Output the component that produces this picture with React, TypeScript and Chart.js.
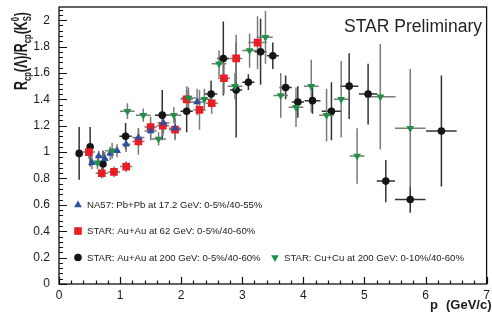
import React, { useEffect, useRef } from "react";
import { Chart, registerables } from "chart.js";

Chart.register(...registerables);

const FONT = "'Liberation Sans', Arial, Helvetica, sans-serif";

// ---- axis ticks ----
const xTickLabels = ["0", "1", "2", "3", "4", "5", "6", "7"];
const yTickLabels = ["0", "0.2", "0.4", "0.6", "0.8", "1", "1.2", "1.4", "1.6", "1.8", "2"];

// ---- NA57: Pb+Pb at 17.2 GeV ----
const na57X = [0.54, 0.65, 0.75, 0.84, 0.95, 1.1, 1.3, 1.5, 1.71, 1.9, 2.26];
const na57Y = [0.92, 0.97, 0.95, 0.99, 1.01, 1.06, 1.11, 1.16, 1.22, 1.18, 1.38];
const na57XErr = [0.05, 0.05, 0.05, 0.05, 0.05, 0.07, 0.1, 0.1, 0.1, 0.1, 0.12];
const na57YErr = [0.05, 0.04, 0.05, 0.05, 0.05, 0.06, 0.07, 0.07, 0.08, 0.08, 0.1];

// ---- STAR: Au+Au at 62 GeV ----
const au62X = [0.49, 0.7, 0.9, 1.1, 1.3, 1.5, 1.7, 1.9, 2.09, 2.3, 2.5, 2.7, 2.9, 3.25];
const au62Y = [1.0, 0.84, 0.85, 0.89, 1.08, 1.19, 1.2, 1.17, 1.4, 1.32, 1.37, 1.56, 1.71, 1.83];
const au62XErr = [0.1, 0.1, 0.1, 0.1, 0.1, 0.1, 0.1, 0.1, 0.1, 0.1, 0.1, 0.1, 0.1, 0.15];
const au62YErr = [0.05, 0.04, 0.04, 0.04, 0.1, 0.08, 0.08, 0.08, 0.1, 0.15, 0.08, 0.12, 0.18, 0.2];

// ---- STAR: Au+Au at 200 GeV ----
const au200X = [0.33, 0.51, 0.72, 1.09, 1.69, 2.09, 2.49, 2.69, 2.9, 3.1, 3.3, 3.5, 3.71, 3.91, 4.15, 4.46, 4.75, 5.06, 5.35, 5.75, 6.26];
const au200Y = [0.99, 1.04, 0.91, 1.12, 1.28, 1.31, 1.44, 1.71, 1.47, 1.53, 1.76, 1.73, 1.49, 1.38, 1.39, 1.31, 1.5, 1.44, 0.78, 0.64, 1.16];
const au200XErr = [0.05, 0.05, 0.05, 0.1, 0.12, 0.1, 0.1, 0.1, 0.1, 0.1, 0.1, 0.1, 0.1, 0.1, 0.13, 0.16, 0.15, 0.15, 0.15, 0.25, 0.25];
const au200YErr = [0.2, 0.15, 0.1, 0.1, 0.19, 0.16, 0.1, 0.28, 0.36, 0.06, 0.25, 0.1, 0.09, 0.12, 0.1, 0.22, 0.25, 0.23, 0.16, 0.1, 0.42];

// ---- STAR: Cu+Cu at 200 GeV ----
const cuX = [0.63, 0.87, 1.12, 1.38, 1.63, 1.88, 2.12, 2.38, 2.62, 2.88, 3.12, 3.38, 3.63, 3.88, 4.13, 4.38, 4.62, 4.88, 5.26, 5.75];
const cuY = [0.92, 1.01, 1.31, 1.28, 1.1, 1.28, 1.41, 1.4, 1.67, 1.5, 1.77, 1.87, 1.43, 1.34, 1.5, 1.28, 1.4, 0.97, 1.42, 1.18];
const cuXErr = [0.12, 0.12, 0.12, 0.12, 0.12, 0.12, 0.12, 0.12, 0.12, 0.12, 0.12, 0.12, 0.12, 0.12, 0.12, 0.12, 0.12, 0.12, 0.25, 0.25];
const cuYErr = [0.05, 0.06, 0.06, 0.05, 0.05, 0.06, 0.08, 0.08, 0.1, 0.1, 0.13, 0.2, 0.17, 0.15, 0.2, 0.2, 0.29, 0.21, 0.4, 0.45];

const legendLabels = [
  "NA57: Pb+Pb at 17.2 GeV: 0-5%/40-55%",
  "STAR: Au+Au at 62 GeV: 0-5%/40-60%",
  "STAR: Au+Au at 200 GeV: 0-5%/40-60%",
  "STAR: Cu+Cu at 200 GeV: 0-10%/40-60%",
];

const BLACK = "#151515";
const RED = "#ec1c24";
const BLUE = "#2e4f9f";
const GREEN = "#1e9145";

const series = [
  { x: au200X, y: au200Y, xe: au200XErr, ye: au200YErr, err: "#333333" },
  { x: au62X, y: au62Y, xe: au62XErr, ye: au62YErr, err: "#7a7a7a" },
  { x: na57X, y: na57Y, xe: na57XErr, ye: na57YErr, err: "#7a7a7a" },
  { x: cuX, y: cuY, xe: cuXErr, ye: cuYErr, err: "#7a7a7a" },
];

const pts = (xs: number[], ys: number[]) => xs.map((v, i) => ({ x: v, y: ys[i] }));

function drawMarker(ctx: CanvasRenderingContext2D, kind: string, x: number, y: number, color: string) {
  ctx.fillStyle = color;
  ctx.beginPath();
  if (kind === "circle") ctx.arc(x, y, 3.8, 0, Math.PI * 2);
  else if (kind === "rect") ctx.rect(x - 3.8, y - 3.8, 7.6, 7.6);
  else if (kind === "up") {
    ctx.moveTo(x, y - 4.5); ctx.lineTo(x + 3.9, y + 2.3); ctx.lineTo(x - 3.9, y + 2.3);
  } else {
    ctx.moveTo(x, y + 4.5); ctx.lineTo(x + 3.9, y - 2.3); ctx.lineTo(x - 3.9, y - 2.3);
  }
  ctx.closePath();
  ctx.fill();
}

function drawYTitle(ctx: CanvasRenderingContext2D) {
  const parts: { t: string; size: number; dy: number; stackNext?: boolean }[] = [
    { t: "R", size: 18, dy: 0 },
    { t: "cp", size: 11, dy: 4 },
    { t: "(", size: 18, dy: 0 },
    { t: "\u039B", size: 18, dy: 0 },
    { t: ")/", size: 18, dy: 0 },
    { t: "R", size: 18, dy: 0 },
    { t: "cp", size: 11, dy: 4 },
    { t: "(K", size: 18, dy: 0 },
    { t: "0", size: 11, dy: -8, stackNext: true },
    { t: "S", size: 11, dy: 4 },
    { t: ")", size: 18, dy: 0 },
  ];
  ctx.save();
  let total = 0;
  const widths: number[] = [];
  parts.forEach((p, i) => {
    ctx.font = `bold ${p.size}px ${FONT}`;
    const w = ctx.measureText(p.t).width;
    widths.push(w);
    if (p.stackNext) return;
    const prev = parts[i - 1];
    if (prev && prev.stackNext) total += Math.max(w, widths[i - 1]);
    else total += w;
  });
  const target = 78;
  const sx = target / total;
  ctx.translate(27, 51);
  ctx.rotate(-Math.PI / 2);
  ctx.scale(sx, 1);
  ctx.fillStyle = "#1a1a1a";
  ctx.textBaseline = "alphabetic";
  ctx.textAlign = "left";
  let cx = -total / 2;
  parts.forEach((p, i) => {
    ctx.font = `bold ${p.size}px ${FONT}`;
    ctx.fillText(p.t, cx, p.dy);
    if (p.stackNext) return;
    const prev = parts[i - 1];
    if (prev && prev.stackNext) cx += Math.max(widths[i], widths[i - 1]);
    else cx += widths[i];
  });
  ctx.restore();
}

const decor = {
  id: "decor",
  beforeDatasetsDraw(chart: any) {
    const ctx: CanvasRenderingContext2D = chart.ctx;
    const xs = chart.scales.x;
    const ys = chart.scales.y;
    const a = chart.chartArea;
    ctx.save();
    ctx.beginPath();
    ctx.rect(a.left, a.top, a.right - a.left, a.bottom - a.top);
    ctx.clip();
    ctx.lineWidth = 1.5;
    series.forEach((s) => {
      ctx.strokeStyle = s.err;
      s.x.forEach((xv, i) => {
        const px = xs.getPixelForValue(xv);
        const py = ys.getPixelForValue(s.y[i]);
        const x0 = xs.getPixelForValue(xv - s.xe[i]);
        const x1 = xs.getPixelForValue(xv + s.xe[i]);
        const y0 = ys.getPixelForValue(s.y[i] - s.ye[i]);
        const y1 = ys.getPixelForValue(s.y[i] + s.ye[i]);
        ctx.beginPath();
        ctx.moveTo(x0, py);
        ctx.lineTo(x1, py);
        ctx.moveTo(px, y0);
        ctx.lineTo(px, y1);
        ctx.stroke();
      });
    });
    ctx.restore();
  },
  afterDraw(chart: any) {
    const ctx: CanvasRenderingContext2D = chart.ctx;
    const xs = chart.scales.x;
    const ys = chart.scales.y;
    const a = chart.chartArea;
    ctx.save();
    // frame
    ctx.strokeStyle = "#111";
    ctx.lineWidth = 1.3;
    ctx.strokeRect(a.left, a.top, a.right - a.left, a.bottom - a.top);
    // y ticks
    ctx.lineWidth = 1.2;
    ctx.beginPath();
    for (let i = 0; i <= 52; i++) {
      const v = i * 0.04;
      const py = Math.round(ys.getPixelForValue(v)) + 0.5;
      const len = i % 5 === 0 ? 8 : 4;
      ctx.moveTo(a.left, py);
      ctx.lineTo(a.left + len, py);
    }
    // x ticks
    for (let i = 0; i <= 35; i++) {
      const v = i * 0.2;
      const px = Math.round(xs.getPixelForValue(v)) + 0.5;
      const len = i % 5 === 0 ? 7 : 3.5;
      ctx.moveTo(px, a.bottom);
      ctx.lineTo(px, a.bottom - len);
    }
    ctx.stroke();

    // legend
    const kinds = ["up", "rect", "circle", "down"];
    const colors = [BLUE, RED, BLACK, GREEN];
    const lx = [78, 78, 78, 275];
    const ly = [205, 231, 257.5, 257.5];
    ctx.font = `9.6px ${FONT}`;
    ctx.textBaseline = "middle";
    ctx.textAlign = "left";
    legendLabels.forEach((lab, i) => {
      drawMarker(ctx, kinds[i], lx[i], ly[i], colors[i]);
      ctx.fillStyle = "#222";
      ctx.fillText(lab, lx[i] + 9, ly[i] + 0.5);
    });

    // STAR Preliminary
    ctx.fillStyle = "#231f20";
    ctx.font = `18px ${FONT}`;
    ctx.textAlign = "right";
    ctx.textBaseline = "alphabetic";
    ctx.save();
    const w = ctx.measureText("STAR Preliminary").width;
    ctx.translate(482, 32);
    ctx.scale(138 / w, 1);
    ctx.fillText("STAR Preliminary", 0, 0);
    ctx.restore();

    // x title (subscript T falls below the visible area, as in the original)
    ctx.fillStyle = "#1a1a1a";
    ctx.textAlign = "left";
    ctx.font = `bold 13px ${FONT}`;
    ctx.fillText("p", 430, 309);
    ctx.font = `bold 9px ${FONT}`;
    ctx.fillText("T", 438, 324);
    ctx.font = `bold 13px ${FONT}`;
    ctx.fillText("(GeV/c)", 446, 309);

    drawYTitle(ctx);
    ctx.restore();
  },
};

export default function App() {
  const ref = useRef<HTMLCanvasElement | null>(null);
  useEffect(() => {
    document.body.style.margin = "0";
    const canvas = ref.current!;
    const chart = new Chart(canvas, {
      type: "scatter",
      data: {
        datasets: [
          { label: legendLabels[3], data: pts(cuX, cuY), pointStyle: "triangle", rotation: 180, pointRadius: 4.5, backgroundColor: GREEN, borderWidth: 0, pointHoverRadius: 4.5 },
          { label: legendLabels[0], data: pts(na57X, na57Y), pointStyle: "triangle", pointRadius: 4.5, backgroundColor: BLUE, borderWidth: 0, pointHoverRadius: 4.5 },
          { label: legendLabels[1], data: pts(au62X, au62Y), pointStyle: "rect", pointRadius: 5.4, backgroundColor: RED, borderWidth: 0, pointHoverRadius: 5.4 },
          { label: legendLabels[2], data: pts(au200X, au200Y), pointStyle: "circle", pointRadius: 3.8, backgroundColor: BLACK, borderWidth: 0, pointHoverRadius: 3.8 },
        ] as any,
      },
      options: {
        animation: false,
        responsive: false,
        devicePixelRatio: 1,
        layout: { padding: { top: 7, right: 1, left: 0, bottom: 0 } },
        plugins: { legend: { display: false }, tooltip: { enabled: false } },
        events: [],
        scales: {
          x: {
            type: "linear",
            min: 0,
            max: 7,
            grid: { display: false, drawTicks: false },
            border: { display: false },
            ticks: {
              stepSize: 1,
              padding: 4,
              color: "#1a1a1a",
              font: { family: FONT, size: 12 },
              callback: (v: any) => xTickLabels[Math.round(Number(v))] ?? "",
            },
            afterFit: (s: any) => {
              s.height = 29;
              s.paddingLeft = 0;
              s.paddingRight = 0;
            },
          },
          y: {
            type: "linear",
            min: 0,
            max: 2.1,
            grid: { display: false, drawTicks: false },
            border: { display: false },
            ticks: {
              stepSize: 0.2,
              includeBounds: false,
              padding: 9,
              color: "#1a1a1a",
              font: { family: FONT, size: 12 },
              callback: (v: any) => {
                const idx = Math.round(Number(v) / 0.2);
                return Math.abs(Number(v) - idx * 0.2) < 1e-6 ? yTickLabels[idx] ?? "" : "";
              },
            },
            afterFit: (s: any) => {
              s.width = 59;
              s.paddingTop = 0;
              s.paddingBottom = 0;
            },
          },
        },
      } as any,
      plugins: [decor],
    });
    return () => chart.destroy();
  }, []);
  return (
    <div style={{ position: "absolute", left: 0, top: 0, width: 492, height: 313, background: "#fff" }}>
      <canvas ref={ref} width={492} height={313} style={{ display: "block" }} />
    </div>
  );
}
